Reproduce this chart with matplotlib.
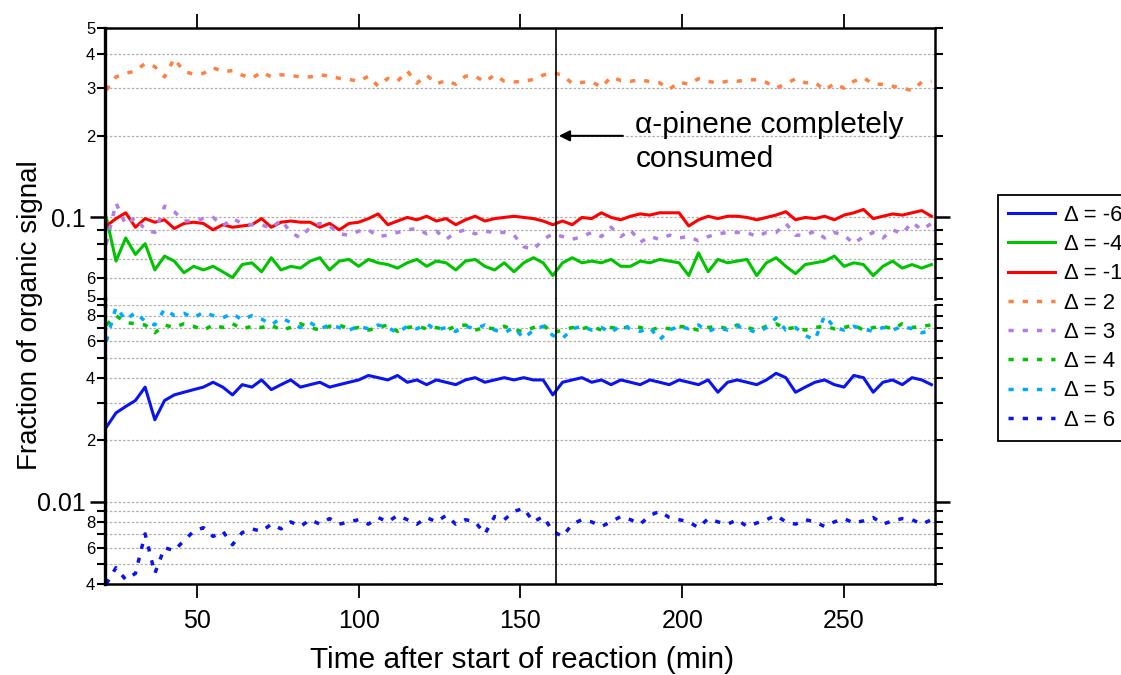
import matplotlib
matplotlib.use("Agg")
import matplotlib.pyplot as plt
from matplotlib.ticker import FixedLocator, FixedFormatter
from matplotlib.lines import Line2D

plt.rcParams['font.family'] = ['Liberation Sans', 'DejaVu Sans']

# ================= DATA =================
time_min = [22, 25, 28, 31, 34, 37, 40, 43, 46, 49,
            52, 55, 58, 61, 64, 67, 70, 73, 76, 79,
            82, 85, 88, 91, 94, 97, 100, 103, 106, 109,
            112, 115, 118, 121, 124, 127, 130, 133, 136, 139,
            142, 145, 148, 151, 154, 157, 160, 163, 166, 169,
            172, 175, 178, 181, 184, 187, 190, 193, 196, 199,
            202, 205, 208, 211, 214, 217, 220, 223, 226, 229,
            232, 235, 238, 241, 244, 247, 250, 253, 256, 259,
            262, 265, 268, 271, 274, 277]

frac_m1 = [0.093, 0.099, 0.104, 0.092, 0.099, 0.096, 0.098, 0.091, 0.095, 0.096,
           0.095, 0.090, 0.094, 0.092, 0.093, 0.094, 0.099, 0.092, 0.096, 0.097,
           0.096, 0.096, 0.092, 0.095, 0.090, 0.095, 0.096, 0.099, 0.103, 0.094,
           0.097, 0.100, 0.098, 0.101, 0.097, 0.099, 0.094, 0.098, 0.101, 0.097,
           0.099, 0.100, 0.101, 0.100, 0.099, 0.097, 0.094, 0.097, 0.094, 0.100,
           0.099, 0.104, 0.100, 0.098, 0.101, 0.103, 0.102, 0.104, 0.104, 0.104,
           0.093, 0.098, 0.101, 0.099, 0.101, 0.101, 0.100, 0.098, 0.100, 0.102,
           0.105, 0.098, 0.100, 0.099, 0.101, 0.098, 0.102, 0.104, 0.107, 0.099,
           0.101, 0.103, 0.102, 0.104, 0.106, 0.101]

frac_m4 = [0.100, 0.069, 0.084, 0.073, 0.080, 0.064, 0.072, 0.069, 0.0625, 0.066,
           0.064, 0.066, 0.063, 0.060, 0.067, 0.068, 0.063, 0.071, 0.064, 0.066,
           0.065, 0.069, 0.071, 0.064, 0.069, 0.070, 0.066, 0.070, 0.068, 0.067,
           0.065, 0.068, 0.070, 0.066, 0.069, 0.068, 0.064, 0.069, 0.070, 0.066,
           0.064, 0.068, 0.063, 0.068, 0.071, 0.068, 0.061, 0.068, 0.071, 0.068,
           0.069, 0.068, 0.070, 0.066, 0.066, 0.069, 0.068, 0.070, 0.069, 0.068,
           0.061, 0.074, 0.063, 0.070, 0.068, 0.069, 0.070, 0.061, 0.068, 0.071,
           0.066, 0.062, 0.067, 0.068, 0.069, 0.072, 0.066, 0.068, 0.067, 0.061,
           0.066, 0.069, 0.065, 0.067, 0.065, 0.067]

frac_p2 = [0.295, 0.330, 0.340, 0.347, 0.370, 0.360, 0.330, 0.386, 0.345, 0.338,
           0.340, 0.357, 0.345, 0.348, 0.335, 0.326, 0.344, 0.330, 0.336, 0.334,
           0.330, 0.330, 0.336, 0.332, 0.326, 0.323, 0.318, 0.332, 0.305, 0.326,
           0.318, 0.347, 0.313, 0.335, 0.311, 0.320, 0.310, 0.332, 0.332, 0.316,
           0.336, 0.318, 0.316, 0.318, 0.323, 0.335, 0.342, 0.335, 0.312, 0.315,
           0.317, 0.302, 0.330, 0.320, 0.318, 0.322, 0.317, 0.314, 0.297, 0.316,
           0.310, 0.325, 0.318, 0.313, 0.318, 0.318, 0.322, 0.322, 0.315, 0.300,
           0.311, 0.325, 0.314, 0.315, 0.295, 0.312, 0.300, 0.318, 0.328, 0.310,
           0.310, 0.305, 0.300, 0.294, 0.316, 0.318]

frac_p3 = [0.080, 0.113, 0.094, 0.100, 0.090, 0.088, 0.110, 0.105, 0.097, 0.097,
           0.099, 0.100, 0.093, 0.099, 0.095, 0.094, 0.094, 0.091, 0.098, 0.088,
           0.084, 0.092, 0.095, 0.093, 0.087, 0.086, 0.089, 0.090, 0.085, 0.086,
           0.088, 0.090, 0.091, 0.087, 0.089, 0.083, 0.088, 0.090, 0.087, 0.089,
           0.088, 0.088, 0.086, 0.078, 0.076, 0.083, 0.087, 0.085, 0.083, 0.085,
           0.088, 0.085, 0.092, 0.085, 0.090, 0.081, 0.085, 0.083, 0.086, 0.084,
           0.085, 0.082, 0.085, 0.087, 0.088, 0.088, 0.088, 0.085, 0.088, 0.088,
           0.095, 0.086, 0.086, 0.089, 0.084, 0.088, 0.086, 0.080, 0.085, 0.088,
           0.084, 0.090, 0.087, 0.096, 0.090, 0.095]

frac_p4 = [0.072, 0.080, 0.074, 0.073, 0.072, 0.066, 0.072, 0.070, 0.073, 0.071,
           0.068, 0.072, 0.070, 0.073, 0.069, 0.071, 0.070, 0.072, 0.068, 0.070,
           0.073, 0.070, 0.068, 0.071, 0.072, 0.069, 0.070, 0.068, 0.070, 0.072,
           0.067, 0.070, 0.071, 0.069, 0.070, 0.068, 0.071, 0.072, 0.068, 0.070,
           0.069, 0.071, 0.068, 0.067, 0.070, 0.072, 0.066, 0.068, 0.070, 0.069,
           0.071, 0.068, 0.070, 0.069, 0.071, 0.070, 0.068, 0.070, 0.069, 0.071,
           0.070, 0.068, 0.070, 0.071, 0.069, 0.072, 0.070, 0.068, 0.071, 0.073,
           0.069, 0.070, 0.068, 0.070, 0.071, 0.069, 0.070, 0.072, 0.068, 0.070,
           0.071, 0.069, 0.073, 0.070, 0.071, 0.072]

frac_p5 = [0.060, 0.088, 0.076, 0.083, 0.075, 0.072, 0.086, 0.080, 0.082, 0.078,
           0.083, 0.080, 0.078, 0.082, 0.076, 0.080, 0.077, 0.072, 0.078, 0.074,
           0.070, 0.074, 0.069, 0.072, 0.070, 0.068, 0.071, 0.069, 0.072, 0.070,
           0.066, 0.071, 0.069, 0.073, 0.068, 0.070, 0.067, 0.071, 0.069, 0.072,
           0.068, 0.066, 0.070, 0.062, 0.068, 0.071, 0.064, 0.062, 0.069, 0.071,
           0.068, 0.070, 0.066, 0.072, 0.069, 0.067, 0.070, 0.061, 0.068, 0.071,
           0.069, 0.072, 0.067, 0.070, 0.068, 0.071, 0.069, 0.066, 0.070, 0.078,
           0.068, 0.070, 0.064, 0.061, 0.080, 0.070, 0.068, 0.071, 0.069, 0.067,
           0.070, 0.068, 0.071, 0.069, 0.066, 0.068]

frac_m6 = [0.023, 0.027, 0.029, 0.031, 0.036, 0.025, 0.031, 0.033, 0.034, 0.035,
           0.036, 0.038, 0.036, 0.033, 0.037, 0.036, 0.039, 0.035, 0.037, 0.039,
           0.036, 0.037, 0.038, 0.036, 0.037, 0.038, 0.039, 0.041, 0.040, 0.039,
           0.041, 0.038, 0.039, 0.037, 0.039, 0.038, 0.037, 0.039, 0.040, 0.038,
           0.039, 0.040, 0.039, 0.040, 0.039, 0.039, 0.033, 0.038, 0.039, 0.040,
           0.038, 0.039, 0.037, 0.039, 0.038, 0.037, 0.039, 0.038, 0.037, 0.039,
           0.038, 0.037, 0.039, 0.034, 0.038, 0.039, 0.038, 0.037, 0.039, 0.042,
           0.040, 0.034, 0.036, 0.038, 0.039, 0.037, 0.036, 0.041, 0.040, 0.034,
           0.038, 0.039, 0.037, 0.040, 0.039, 0.037]

frac_p6 = [0.0040, 0.0048, 0.0042, 0.0045, 0.0070, 0.0045, 0.0060, 0.0058, 0.0065, 0.0072,
           0.0075, 0.0068, 0.0072, 0.0062, 0.0071, 0.0074, 0.0072, 0.0078, 0.0074, 0.0080,
           0.0076, 0.0082, 0.0078, 0.0083, 0.0078, 0.0080, 0.0082, 0.0078, 0.0084, 0.0080,
           0.0086, 0.0082, 0.0078, 0.0084, 0.0080, 0.0086, 0.0078, 0.0082, 0.0080, 0.0070,
           0.0085, 0.0082, 0.0090, 0.0093, 0.0080, 0.0085, 0.0072, 0.0068, 0.0078, 0.0082,
           0.0080, 0.0076, 0.0080, 0.0085, 0.0082, 0.0078, 0.0086, 0.0090, 0.0084, 0.0082,
           0.0080, 0.0075, 0.0083, 0.0080, 0.0078, 0.0082, 0.0076, 0.0079, 0.0082, 0.0086,
           0.0080, 0.0078, 0.0082, 0.0080, 0.0076, 0.0080, 0.0083, 0.0079, 0.0081, 0.0084,
           0.0078, 0.0081, 0.0083, 0.0082, 0.0078, 0.0082]

consumed_time = 161

# tick positions/labels of the two log segments
# (the two labels next to the break, 0.05 and 0.08, are placed by hand below)
top_minor = [0.05, 0.06, 0.07, 0.08, 0.09, 0.2, 0.3, 0.4, 0.5]
top_minor_lab = ['', '6', '', '', '', '2', '3', '4', '5']
bot_minor = [0.004, 0.005, 0.006, 0.007, 0.008, 0.009,
             0.02, 0.03, 0.04, 0.05, 0.06, 0.07, 0.08, 0.09]
bot_minor_lab = ['4', '', '6', '', '8', '',
                 '2', '', '4', '', '6', '', '', '']
MINOR_FS = 12

# ================= FIGURE =================
W, H = 1121, 675
fig = plt.figure(figsize=(W / 100, H / 100), dpi=100)


def px_box(x0, y0, x1, y1):
    return [x0 / W, 1 - y1 / H, (x1 - x0) / W, (y1 - y0) / H]


ax_top = fig.add_axes(px_box(105, 28, 935, 299))
ax_bot = fig.add_axes(px_box(105, 305, 935, 584))

blue = '#0a14f0'
green = '#00c400'
dots = (0, (1.5, 2.6))

h_m6, = ax_bot.plot(time_min, frac_m6, color=blue, lw=2.2, label='Δ = -6')
h_m4, = ax_top.plot(time_min, frac_m4, color=green, lw=2.2, label='Δ = -4')
h_m1, = ax_top.plot(time_min, frac_m1, color='#ff0000', lw=2.2, label='Δ = -1')
h_p2, = ax_top.plot(time_min, frac_p2, color='#ff8040', lw=2.5, ls=dots, label='Δ = 2')
h_p3, = ax_top.plot(time_min, frac_p3, color='#b07ee6', lw=2.5, ls=dots, label='Δ = 3')
h_p4, = ax_bot.plot(time_min, frac_p4, color=green, lw=2.5, ls=dots, label='Δ = 4')
h_p5, = ax_bot.plot(time_min, frac_p5, color='#00aaff', lw=2.5, ls=dots, label='Δ = 5')
h_p6, = ax_bot.plot(time_min, frac_p6, color=blue, lw=2.5, ls=dots, label='Δ = 6')

for ax, lo, hi, major, minor, minor_lab in [
        (ax_top, 0.05, 0.5, 0.1, top_minor, top_minor_lab),
        (ax_bot, 0.004, 0.09, 0.01, bot_minor, bot_minor_lab)]:
    ax.set_yscale('log')
    ax.set_ylim(lo, hi)
    ax.set_xlim(21.6, 278.1)
    ax.yaxis.set_major_locator(FixedLocator([major]))
    ax.yaxis.set_major_formatter(FixedFormatter([str(major)]))
    ax.yaxis.set_minor_locator(FixedLocator(minor))
    ax.yaxis.set_minor_formatter(FixedFormatter(minor_lab))
    ax.tick_params(axis='y', which='major', left=True, right=True, direction='out',
                   length=11, width=1.8, labelsize=18, pad=3)
    ax.tick_params(axis='y', which='minor', left=True, right=True, direction='out',
                   length=6, width=1.5, labelsize=MINOR_FS, pad=1)
    ax.grid(True, which='both', axis='y', color='#b0b0b0', ls=(0, (2, 1.5)), lw=0.9)
    ax.set_axisbelow(True)
    ax.spines['left'].set_linewidth(2.4)
    for s in ['right', 'top', 'bottom']:
        ax.spines[s].set_linewidth(1.8)
    ax.set_xticks([50, 100, 150, 200, 250])
    ax.axvline(consumed_time, color='k', lw=1.2)

# labels either side of the axis break, nudged apart a little
ax_top.annotate('5', xy=(0, 0.05), xycoords=('axes fraction', 'data'),
                xytext=(-7, 1.2), textcoords='offset points',
                ha='right', va='center', fontsize=MINOR_FS)
ax_bot.annotate('8', xy=(0, 0.08), xycoords=('axes fraction', 'data'),
                xytext=(-7, -0.8), textcoords='offset points',
                ha='right', va='center', fontsize=MINOR_FS)

ax_top.spines['bottom'].set_visible(False)
ax_bot.spines['top'].set_visible(False)
ax_top.tick_params(axis='x', bottom=False, top=True, labelbottom=False,
                   direction='out', length=10, width=1.3)
ax_bot.tick_params(axis='x', bottom=True, top=False, labelbottom=True,
                   direction='out', length=10, width=1.3, labelsize=18, pad=8)

# close the small gap between the two segments
fig.add_artist(Line2D([105 / W, 105 / W], [1 - 306 / H, 1 - 298 / H], color='k', lw=2.4))
ax_top.axvline(consumed_time, ymin=-0.03, ymax=0, color='k', lw=1.2, clip_on=False)

# annotation
ax_top.annotate('', xy=(consumed_time, 0.2), xytext=(182.5, 0.2),
                arrowprops=dict(arrowstyle='-|>', color='k', lw=1.5, mutation_scale=16))
ax_top.text(185.5, 0.19, 'α-pinene completely\nconsumed', fontsize=21.5,
            ha='left', va='center', linespacing=1.25)

fig.text(30 / W, 1 - 315 / H, 'Fraction of organic signal', rotation=90,
         ha='center', va='center', fontsize=20)
fig.text(522 / W, 1 - 660 / H, 'Time after start of reaction (min)',
         ha='center', va='center', fontsize=21.5)

handles = [h_m6, h_m4, h_m1, h_p2, h_p3, h_p4, h_p5, h_p6]
leg = fig.legend(handles, [h.get_label() for h in handles], loc='upper left',
                 bbox_to_anchor=(998 / W, 1 - 195 / H), bbox_transform=fig.transFigure,
                 borderaxespad=0, fontsize=16, handlelength=2.1, handletextpad=0.4,
                 labelspacing=0.37, borderpad=0.45, fancybox=False, framealpha=1,
                 edgecolor='k')
leg.get_frame().set_linewidth(1.3)

fig.savefig('out.png', dpi=100)
